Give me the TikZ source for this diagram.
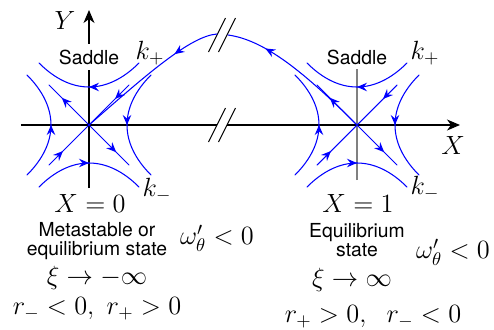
\RequirePackage{fix-cm}
\documentclass[tikz,border=0pt]{standalone}
\usepackage{fontspec}
\setsansfont{TeX Gyre Heros}
\usetikzlibrary{arrows.meta,decorations.markings}

\begin{document}
\begin{tikzpicture}[x=0.02cm,y=0.02cm,
			orbita/.style={line width=0.6pt, line cap=round, blue},
			asse/.style={line width=0.6pt, black},
			taglio/.style={line width=0.6pt, black},
			verso/.style={postaction={decorate}, decoration={markings,
				mark=at position #1 with {\arrow{Stealth[length=2mm,width=1.7mm,inset=0.7mm]}}}},
			punta/.style={-{Stealth[length=2.6mm,width=2.2mm,inset=0.8mm]}},
			testo/.style={font=\sffamily\fontsize{11}{11}\selectfont, align=center, inner sep=0pt},
			formula/.style={font=\fontsize{15}{18}\selectfont, inner sep=0pt},
			]
			\useasboundingbox (-89,-204) rectangle (405,125);
			\coordinate (S0) at (0,0);
			\coordinate (S1) at (268,0);
			
			%% ── assi e interruzioni ────────────────────────────────
			\draw[asse](-68,0)--(128,0);
			\draw[asse,punta](138,0)--(371,0);
			\draw[asse,punta](0,-63)--(0,115);
			\draw[asse,gray](268,-55)--(268,56);
			\foreach \xx in {128,138}{
				\draw[taglio](\xx-8.5,-17)--(\xx+8.5,17);
				\draw[taglio](\xx-8.5,73)--(\xx+8.5,107);
			}
			
			%% ── selle ──────────────────────────────────────────────
			\foreach \sx in {0,268}{
				\begin{scope}[shift={(\sx,0)}]
					\draw[orbita,verso=0.5](50,62)..controls(18,30)and(-18,30)..(-50,62);
					\draw[orbita,verso=0.5](-50,-62)..controls(-18,-30)and(18,-30)..(50,-62);
					\draw[orbita,verso=0.5](-62,-50)..controls(-30,-18)and(-30,18)..(-62,50);
					\draw[orbita,verso=0.5](62,50)..controls(30,18)and(30,-18)..(62,-50);
					\draw[orbita,verso=0.68](0,0)--(-40,40);
					\draw[orbita,verso=0.68](0,0)--(40,-40);
					\draw[orbita,verso=0.35](40,40)--(0,0);
					\draw[orbita,verso=0.35](-40,-40)--(0,0);
				\end{scope}
			}
			
			%% ── orbita eteroclina ──────────────────────────────────
			\draw[orbita,verso=0.75](S1)..controls(216,52)and(176,85)..(139,90);
			\draw[orbita,verso=0.3](128,91)..controls(101,89)and(56,49)..(S0);
			
			%% ── etichette ──────────────────────────────────────────
			\node[testo,fill=white,inner sep=3pt](sellaA)at(0,68){Saddle};
			\node[testo](sellaB)at(268,68){Saddle};
			\node[formula](kpA)at(61,72){$k_+$};
			\node[formula](kmA)at(68,-65){$k_-$};
			\node[formula](kpB)at(336,72){$k_+$};
			\node[formula](kmB)at(336,-63){$k_-$};
			\node[formula](asseY)at(-24,105){$Y$};
			\node[formula](asseX)at(364,-20){$X$};
			\node[formula](XA)at(1,-78){$X=0$};
			\node[formula](XB)at(269,-78){$X=1$};
			\node[testo](statoA)at(8,-116){Metastable or\\equilibrium state};
			\node[formula](omA)at(128,-113){$\omega'_\theta<0$};
			\node[formula](xiA)at(8,-153){$\xi\to-\infty$};
			\node[formula](rA)at(8,-184){$r_-<0,\ r_+>0$};
			\node[testo](statoB)at(268,-115){Equilibrium\\state};
			\node[formula](omB)at(364,-127){$\omega'_\theta<0$};
			\node[formula](xiB)at(263,-155){$\xi\to\infty$};
			\node[formula](rB)at(284,-192){$r_+>0,\ \ r_-<0$};
			
	\end{tikzpicture}
\end{document}
